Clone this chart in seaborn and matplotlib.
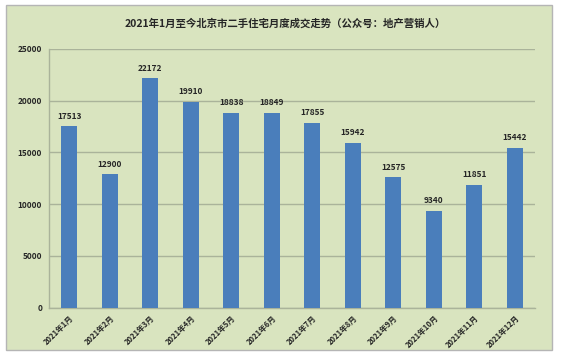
import matplotlib
matplotlib.use("Agg")
import matplotlib.pyplot as plt
import matplotlib.patches as patches
import seaborn as sns
import pandas as pd
import numpy as np

title = "2021年1月至今北京市二手住宅月度成交走势（公众号：地产营销人）"
months = ["2021年1月", "2021年2月", "2021年3月", "2021年4月", "2021年5月", "2021年6月",
          "2021年7月", "2021年8月", "2021年9月", "2021年10月", "2021年11月", "2021年12月"]
deals = [17513, 12900, 22172, 19910, 18838, 18849, 17855, 15942, 12575, 9340, 11851, 15442]
yticks = [0, 5000, 10000, 15000, 20000, 25000]

bg = "#d9e4bf"
bar_color = "#4a7ebb"
grid_color = "#aab39a"

sns.set_style("white")
plt.rcParams['font.family'] = ['Noto Sans CJK SC', 'DejaVu Sans']

df = pd.DataFrame({'month': months, 'deals': deals})

W, H = 564, 356
fig = plt.figure(figsize=(W / 100, H / 100), dpi=100)
fig.patch.set_facecolor("white")

# outer chart frame
frame = patches.Rectangle((6 / W, 1 - 350 / H), (552 - 6) / W, (350 - 5) / H,
                          transform=fig.transFigure, facecolor=bg,
                          edgecolor="#b5b5b5", linewidth=1.0, zorder=-5)
fig.patches.append(frame)

ax = fig.add_axes([49 / W, 1 - 307.5 / H, (535 - 49) / W, (307.5 - 49) / H])
ax.set_zorder(1)
ax.set_facecolor(bg)

sns.barplot(data=df, x='month', y='deals', color=bar_color, width=0.4,
            saturation=1, linewidth=0, ax=ax, zorder=3)

ax.set_xlim(-0.5, len(months) - 0.5)
ax.set_ylim(0, 25000)
ax.set_yticks(yticks)
ax.set_yticklabels([str(v) for v in yticks], fontsize=6, fontweight='bold')
ax.yaxis.grid(True, color=grid_color, linewidth=1.0, zorder=0)
ax.set_axisbelow(True)

ax.set_xticks(range(len(months)))
ax.set_xticklabels(months, rotation=45, ha='right', rotation_mode='anchor',
                   fontsize=5.5, fontweight='bold')
ax.set_xticks(np.arange(-0.5, len(months), 1), minor=True)
ax.tick_params(axis='x', which='major', length=0, pad=4)
ax.tick_params(axis='x', which='minor', length=3, color=grid_color)
ax.tick_params(axis='y', length=3, color=grid_color, pad=2)

ax.set_xlabel("")
ax.set_ylabel("")
for side in ['top', 'right']:
    ax.spines[side].set_visible(False)
for side in ['left', 'bottom']:
    ax.spines[side].set_color(grid_color)
    ax.spines[side].set_linewidth(1.0)

ax.bar_label(ax.containers[0], padding=4, fontsize=6, fontweight='bold')

fig.text(285 / W, 1 - 24 / H, title, ha='center', va='center',
         fontsize=7.5, fontweight='bold')

fig.savefig("out.png", dpi=100, facecolor=fig.get_facecolor())
